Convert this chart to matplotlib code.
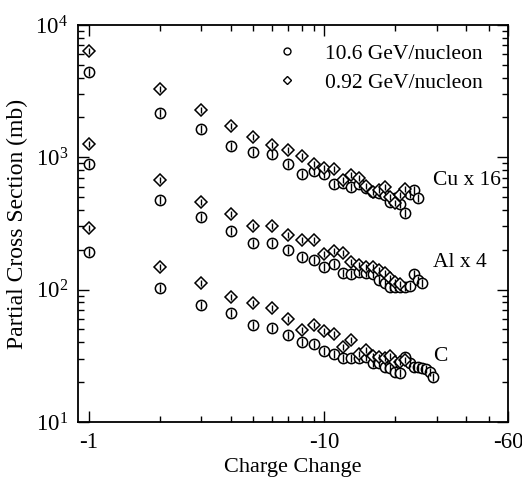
import numpy as np
import matplotlib
matplotlib.use("Agg")
import matplotlib.pyplot as plt
from matplotlib.ticker import FixedLocator, NullFormatter, LogLocator

plt.rcParams['font.family'] = ['Liberation Serif', 'DejaVu Serif']
plt.rcParams['mathtext.fontset'] = 'stix'

# charge change (absolute value) and partial cross sections (mb)
cu_hi_dz = list(range(1, 26))
cu_hi = [4420, 2175, 1626, 1211, 1097, 1064, 890, 750, 788, 743, 625, 643, 600,
         625, 584, 545, 537, 519, 462, 489, 440, 380, 525, 567, 495]
cu_lo_dz = list(range(1, 23))
cu_lo = [6400, 3266, 2280, 1725, 1432, 1240, 1135, 1028, 885, 826, 814, 673, 735,
         693, 610, 550, 567, 600, 504, 449, 520, 577]

al_hi_dz = list(range(1, 27))
al_hi = [885, 475, 352, 275, 226, 225, 199, 177, 167, 149, 156, 134, 131, 137,
         134, 132, 118, 112, 105, 104, 105, 104, 107, 131, 118, 113]
al_lo_dz = list(range(1, 22))
al_lo = [1268, 673, 459, 373, 304, 304, 259, 237, 237, 185, 196, 188, 163, 153,
         149, 147, 141, 133, 122, 115, 110]

c_hi_dz = list(range(1, 30))
c_hi = [191, 103, 76.5, 66.2, 54, 51, 45.3, 40, 38.6, 34.4, 32.6, 30.5, 30.5, 30.5,
        31, 27.7, 27.7, 26.1, 25.4, 24, 23.4, 30.8, 27.7, 26.1, 26.1, 25.4, 25, 24, 22]
c_lo_dz = list(range(1, 23))
c_lo = [294, 149, 112, 87.5, 78.7, 72.2, 60, 49.5, 54, 49, 45.9, 36.6, 41.6, 32.8,
        34.9, 31.6, 31, 30.5, 31.6, 28.6, 28.6, 29.5]

labels = ['Cu x 16', 'Al x 4', 'C']
label_y = [673, 159, 31]

fig = plt.figure(figsize=(5.22, 4.80), dpi=100)
ax = fig.add_axes([0.149, 0.121, 0.824, 0.827])

def draw(dz, vals, marker, ms):
    ax.plot(dz, vals, linestyle='none', marker=marker, ms=ms, mfc='white',
            mec='black', mew=1.1)
    ax.plot(dz, vals, linestyle='none', marker='|', ms=ms * 0.8, mec='black',
            mew=1.0)

for dz, vals in [(cu_hi_dz, cu_hi), (al_hi_dz, al_hi), (c_hi_dz, c_hi)]:
    draw(dz, vals, 'o', 7.4)
for dz, vals in [(cu_lo_dz, cu_lo), (al_lo_dz, al_lo), (c_lo_dz, c_lo)]:
    draw(dz, vals, 'D', 6.0)

# legend handles
h1, = ax.plot([], [], linestyle='none', marker='o', ms=5, mfc='white', mec='black', mew=1.0)
h2, = ax.plot([], [], linestyle='none', marker='D', ms=4, mfc='white', mec='black', mew=1.0)
ax.legend([h1, h2], ['10.6 GeV/nucleon', '0.92 GeV/nucleon'], frameon=False,
          loc='upper left', bbox_to_anchor=(0.416, 0.975), fontsize=15.5,
          handlelength=2.0, handletextpad=0.76, labelspacing=0.42,
          borderpad=0.4, borderaxespad=0)

for lab, y in zip(labels, label_y):
    ax.text(28.8, y, lab, fontsize=15.5, va='center', ha='left')

ax.set_xscale('log')
ax.set_yscale('log')
ax.set_xlim(0.9, 60)
ax.set_ylim(10, 1e4)

ax.xaxis.set_major_locator(FixedLocator([1, 10, 60]))
ax.set_xticklabels(['-1', '-10', '-60'])
ax.xaxis.set_minor_locator(FixedLocator([2, 3, 4, 5, 6, 7, 8, 9, 20, 30, 40, 50]))
ax.xaxis.set_minor_formatter(NullFormatter())
ax.yaxis.set_major_locator(LogLocator(base=10))
ax.yaxis.set_minor_locator(LogLocator(base=10, subs=np.arange(2, 10)))
ax.yaxis.set_minor_formatter(NullFormatter())

ax.tick_params(which='both', direction='in', top=True, right=True, labelsize=16.5,
               width=1.0)
ax.tick_params(which='major', length=8, pad=7)
ax.tick_params(which='minor', length=4)
for s in ax.spines.values():
    s.set_linewidth(1.3)

ax.set_xlabel('Charge Change', fontsize=16, labelpad=4)
ax.set_ylabel('Partial Cross Section (mb)', fontsize=17, labelpad=5)

fig.savefig('out.png', dpi=100)
